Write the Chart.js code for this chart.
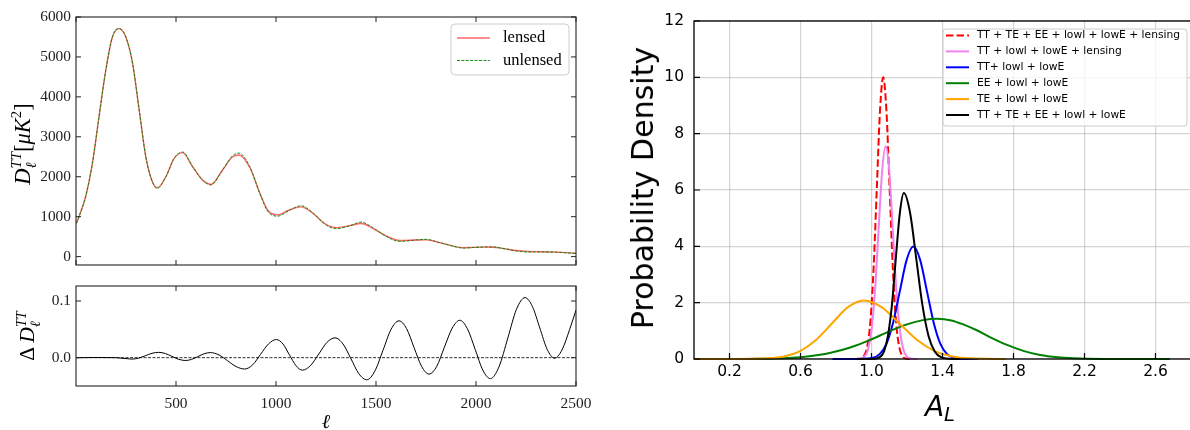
<!DOCTYPE html>
<html><head><meta charset="utf-8"><title>CMB TT lensing and A_L posteriors</title>
<script src="https://cdn.jsdelivr.net/npm/chart.js@4.4.1/dist/chart.umd.min.js"></script>
<style>
html,body{margin:0;padding:0;background:#fff;width:1190px;height:430px;overflow:hidden;position:relative;}
canvas{position:absolute;display:block;}
.lbl{position:absolute;white-space:nowrap;line-height:1;color:#000;}
.serif{font-family:"Liberation Serif","DejaVu Serif",serif;}
.sans{font-family:"DejaVu Sans",sans-serif;}
.rot{transform:translate(-50%,-50%) rotate(-90deg);}
.ctr{transform:translate(-50%,-50%);}
.stk{display:inline-block;vertical-align:-0.42em;font-size:0.66em;line-height:1.02;text-align:left;}
.stk span{display:block;}
i{font-style:italic;}
</style></head><body>
<canvas id="cTT" width="600" height="280" style="left:0;top:0"></canvas>
<canvas id="cRes" width="600" height="150" style="left:0;top:280px"></canvas>
<canvas id="cAL" width="600" height="430" style="left:600px;top:0"></canvas>

<div class="lbl serif rot" style="left:24px;top:144px;font-size:22.5px"><i>D</i><span class="stk"><span><i>TT</i></span><span><i>ℓ</i></span></span>[<i>μK</i><sup style="font-size:0.66em">2</sup>]</div>
<div class="lbl serif rot" style="left:28px;top:336px;font-size:21.5px">Δ <i>D</i><span class="stk"><span><i>TT</i></span><span><i>ℓ</i></span></span></div>
<div class="lbl serif ctr" style="left:326px;top:421px;font-size:20px"><i>ℓ</i></div>
<div class="lbl sans rot" style="left:643px;top:188px;font-size:30px">Probability Density</div>
<div class="lbl sans ctr" style="left:940px;top:409px;font-size:28px"><i>A</i><sub style="font-size:0.7em;font-style:italic;vertical-align:-0.25em">L</sub></div>

<script>
// ---------- data: TT power spectrum ----------
const ellTT = [2,15,48,82,115,149,182,215,249,283,316,349,382,407,449,491,533,583,633,675,733,783,815,867,917,958,1008,1067,1126,1184,1242,1301,1368,1426,1484,1551,1618,1701,1751,1818,1902,1935,1985,2040,2085,2140,2202,2260,2319,2400,2500];
const ttLensed = [835,1000,1500,2335,3500,4668,5500,5710,5500,4835,3668,2500,1875,1725,2000,2460,2605,2250,1918,1810,2168,2500,2545,2250,1620,1168,1045,1168,1245,1085,835,725,775,830,710,518,405,415,420,350,245,226,231,238,236,200,152,128,123,112,85];
const ttUnlensed = [835,1000,1500,2335,3500,4668,5500,5712,5502,4840,3672,2500,1870,1712,1995,2465,2618,2255,1912,1795,2172,2525,2592,2275,1610,1140,1013,1160,1273,1100,820,700,770,864,725,505,380,418,432,352,240,212,228,242,245,198,142,116,118,112,78];
const ttYTicks = [0,1000,2000,3000,4000,5000,6000];
const ellTicks = [500,1000,1500,2000,2500];

// ---------- data: fractional residual (lensed vs unlensed) ----------
const resEll = [2,100,200,280,313,347,380,413,447,480,514,547,578,610,641,672,715,758,801,844,884,923,963,1002,1035,1067,1100,1132,1173,1214,1254,1295,1335,1375,1414,1454,1494,1535,1575,1615,1653,1690,1728,1765,1804,1842,1881,1919,1957,1996,2034,2072,2115,2159,2202,2245,2282,2319,2356,2393,2430,2468,2500];
const resVal = [0,0.0003,0,-0.0025,-0.0008,0.0035,0.0077,0.0094,0.0073,0.0022,-0.0029,-0.005,-0.003,0.002,0.007,0.009,0.0048,-0.0055,-0.0158,-0.020,-0.0124,0.006,0.0244,0.032,0.0241,0.005,-0.0141,-0.022,-0.0137,0.0065,0.0267,0.035,0.0242,-0.002,-0.0282,-0.039,-0.0238,0.013,0.0498,0.065,0.0513,0.018,-0.0153,-0.029,-0.0151,0.0185,0.0521,0.066,0.051,0.0145,-0.022,-0.037,-0.0161,0.0345,0.0851,0.106,0.0904,0.0525,0.0146,-0.001,0.0137,0.0495,0.084];
const resZeroEll = [0,2500];
const resZeroVal = [0,0];
const resTicks = [0.0,0.1];

// ---------- data: A_L posteriors ----------
const alLabels = ['TT + TE + EE + lowl + lowE + lensing','TT + lowl + lowE + lensing','TT+ lowl + lowE','EE + lowl + lowE','TE + lowl + lowE','TT + TE + EE + lowl + lowE'];
const aRed = [0.90,0.94,0.958,0.976,0.994,1.012,1.030,1.048,1.066,1.084,1.102,1.120,1.138,1.156,1.174,1.20,1.24];
const pRed = [0,0.02,0.11,0.44,1.35,3.25,6.07,8.83,10.0,8.83,6.07,3.25,1.35,0.44,0.11,0.01,0];
const aVio = [0.90,0.94,0.96,0.98,1.00,1.02,1.04,1.06,1.08,1.10,1.12,1.14,1.16,1.18,1.20,1.22,1.26];
const pVio = [0,0.02,0.08,0.33,1.02,2.45,4.59,6.67,7.56,6.67,4.59,2.45,1.02,0.33,0.08,0.02,0];
const aBlue = [0.78,0.932,1.008,1.046,1.084,1.122,1.160,1.198,1.236,1.274,1.312,1.350,1.388,1.426,1.464,1.540,1.60];
const pBlue = [0,0.001,0.044,0.175,0.54,1.30,2.42,3.52,3.99,3.52,2.42,1.30,0.54,0.175,0.044,0.001,0];
const aGreen = [0.30,0.45,0.60,0.70,0.77,0.88,0.99,1.10,1.20,1.29,1.37,1.45,1.52,1.59,1.67,1.76,1.86,1.95,2.05,2.14,2.30,2.68];
const pGreen = [0,0.017,0.066,0.14,0.22,0.41,0.67,0.98,1.23,1.38,1.43,1.37,1.22,1.03,0.77,0.51,0.28,0.14,0.06,0.025,0.004,0];
const aOrange = [0.0,0.237,0.417,0.507,0.597,0.687,0.777,0.867,0.957,1.057,1.157,1.257,1.357,1.457,1.557,1.757];
const pOrange = [0,0,0.023,0.091,0.28,0.675,1.26,1.84,2.08,1.84,1.26,0.675,0.28,0.091,0.023,0];
const aBlack = [0.92,1.002,1.047,1.070,1.092,1.115,1.137,1.160,1.182,1.217,1.252,1.287,1.322,1.357,1.392,1.462,1.50];
const pBlack = [0,0.002,0.065,0.26,0.80,1.91,3.57,5.20,5.89,5.20,3.57,1.91,0.80,0.26,0.065,0.002,0];
const alTicks = [0.2,0.6,1.0,1.4,1.8,2.2,2.6];
const pdTicks = [0,2,4,6,8,10,12];

// ---------- helpers ----------
const pts = (xs, ys) => xs.map((x, i) => ({x: x, y: ys[i]}));
const setTicks = arr => s => { s.ticks = arr.map(v => ({value: v})); };
const fitW = w => s => { s.width = w; s.paddingLeft = s.paddingRight = s.paddingTop = s.paddingBottom = 0; };
const fitH = h => s => { s.height = h; s.paddingLeft = s.paddingRight = s.paddingTop = s.paddingBottom = 0; };

const mplFrame = {
  id: 'mplFrame',
  afterDatasetsDraw(chart, args, o) {
    const {ctx, chartArea: a, scales} = chart;
    ctx.save();
    ctx.strokeStyle = o.color; ctx.lineWidth = o.tickWidth; ctx.setLineDash([]);
    const L = o.tickLen;
    const xs = scales.x.ticks.map(t => scales.x.getPixelForValue(t.value));
    const ys = scales.y.ticks.map(t => scales.y.getPixelForValue(t.value));
    ctx.beginPath();
    if (o.ticks.bottom) xs.forEach(x => { ctx.moveTo(x, a.bottom); ctx.lineTo(x, a.bottom - L); });
    if (o.ticks.top) xs.forEach(x => { ctx.moveTo(x, a.top); ctx.lineTo(x, a.top + L); });
    if (o.ticks.left) ys.forEach(y => { ctx.moveTo(a.left, y); ctx.lineTo(a.left + L, y); });
    if (o.ticks.right) ys.forEach(y => { ctx.moveTo(a.right, y); ctx.lineTo(a.right - L, y); });
    ctx.stroke();
    ctx.lineWidth = o.spineWidth;
    ctx.strokeRect(a.left, a.top, a.right - a.left, a.bottom - a.top);
    ctx.restore();
  }
};

const mplLegend = {
  id: 'mplLegend',
  afterDraw(chart, args, o) {
    if (!o || !o.box) return;
    const ctx = chart.ctx;
    const [bx, by, bw, bh] = o.box;
    const r = o.radius || 3;
    ctx.save();
    ctx.beginPath();
    ctx.moveTo(bx + r, by);
    ctx.arcTo(bx + bw, by, bx + bw, by + bh, r);
    ctx.arcTo(bx + bw, by + bh, bx, by + bh, r);
    ctx.arcTo(bx, by + bh, bx, by, r);
    ctx.arcTo(bx, by, bx + bw, by, r);
    ctx.closePath();
    ctx.fillStyle = 'rgba(255,255,255,0.8)';
    ctx.fill();
    ctx.strokeStyle = '#cccccc'; ctx.lineWidth = 1;
    ctx.stroke();
    let row = 0;
    chart.data.datasets.forEach(ds => {
      if (ds.inLegend === false) return;
      const y = o.rowY0 + row * o.rowH; row++;
      ctx.beginPath();
      ctx.strokeStyle = ds.borderColor; ctx.lineWidth = ds.borderWidth;
      ctx.setLineDash(ds.borderDash || []);
      ctx.moveTo(o.hx0, y); ctx.lineTo(o.hx1, y); ctx.stroke();
      ctx.setLineDash([]);
      ctx.fillStyle = '#000'; ctx.font = o.font; ctx.textBaseline = 'middle'; ctx.textAlign = 'left';
      ctx.fillText(ds.label, o.tx, y + (o.textDy || 0));
    });
    ctx.restore();
  }
};

const base = {
  animation: false, responsive: false, devicePixelRatio: 1,
  elements: { point: { radius: 0, hoverRadius: 0 }, line: { cubicInterpolationMode: 'monotone', borderCapStyle: 'butt', fill: false } },
  events: []
};
const serifTick = { family: '"Liberation Serif","DejaVu Serif",serif', size: 15.4 };
const sansTick = { family: '"DejaVu Sans",sans-serif', size: 15.5 };

// ---------- chart 1: TT spectrum ----------
new Chart(document.getElementById('cTT'), {
  type: 'line',
  data: { datasets: [
    { label: 'lensed', data: pts(ellTT, ttLensed), borderColor: 'rgba(255,0,0,0.6)', borderWidth: 1.4, order: 2 },
    { label: 'unlensed', data: pts(ellTT, ttUnlensed), borderColor: '#008000', borderWidth: 0.9, borderDash: [3, 1.4], order: 1 }
  ]},
  options: Object.assign({}, base, {
    layout: { padding: { top: 17, right: 24, left: 0, bottom: 0 } },
    plugins: {
      legend: { display: false }, tooltip: { enabled: false },
      mplFrame: { color: '#222', tickWidth: 1, spineWidth: 1.1, tickLen: 5, ticks: { bottom: true, top: true, left: true, right: true } },
      mplLegend: { box: [451, 24, 118, 51], radius: 4, hx0: 457, hx1: 490, tx: 503, rowY0: 38, rowH: 22.5, font: '16.5px "Liberation Serif", serif' }
    },
    scales: {
      x: { type: 'linear', min: 0, max: 2500, afterBuildTicks: setTicks([0].concat(ellTicks)), afterFit: fitH(15),
           ticks: { display: false }, grid: { display: false, drawTicks: false }, border: { display: false } },
      y: { type: 'linear', min: -210, max: 6000, afterBuildTicks: setTicks(ttYTicks), afterFit: fitW(76),
           ticks: { font: serifTick, color: '#222', padding: 5, callback: v => String(v) },
           grid: { display: false, drawTicks: false }, border: { display: false } }
    }
  }),
  plugins: [mplFrame, mplLegend]
});

// ---------- chart 2: residual ----------
new Chart(document.getElementById('cRes'), {
  type: 'line',
  data: { datasets: [
    { label: 'zero', data: pts(resZeroEll, resZeroVal), borderColor: '#333', borderWidth: 1, borderDash: [3, 1.5], order: 2, cubicInterpolationMode: 'default', tension: 0 },
    { label: 'residual', data: pts(resEll, resVal), borderColor: '#000', borderWidth: 1, order: 1 }
  ]},
  options: Object.assign({}, base, {
    layout: { padding: { top: 6, right: 24, left: 0, bottom: 0 } },
    plugins: {
      legend: { display: false }, tooltip: { enabled: false },
      mplFrame: { color: '#222', tickWidth: 1, spineWidth: 1.1, tickLen: 5, ticks: { bottom: true, top: true, left: true, right: true } }
    },
    scales: {
      x: { type: 'linear', min: 0, max: 2500, afterBuildTicks: setTicks(ellTicks), afterFit: fitH(44),
           ticks: { font: serifTick, color: '#222', padding: 9, callback: v => String(v) },
           grid: { display: false, drawTicks: false }, border: { display: false } },
      y: { type: 'linear', min: -0.05, max: 0.1265, afterBuildTicks: setTicks(resTicks), afterFit: fitW(76),
           ticks: { font: serifTick, color: '#222', padding: 5, callback: v => Number(v).toFixed(1) },
           grid: { display: false, drawTicks: false }, border: { display: false } }
    }
  }),
  plugins: [mplFrame]
});

// ---------- chart 3: A_L posteriors ----------
const alColors = ['#ff0000', '#ee82ee', '#0000ff', '#008000', '#ffa500', '#000000'];
const alX = [aRed, aVio, aBlue, aGreen, aOrange, aBlack];
const alY = [pRed, pVio, pBlue, pGreen, pOrange, pBlack];
new Chart(document.getElementById('cAL'), {
  type: 'line',
  data: { datasets: alLabels.map((lab, i) => ({
    label: lab, data: pts(alX[i], alY[i]), borderColor: alColors[i], borderWidth: 2,
    borderDash: i === 0 ? [7.4, 3.2] : [], order: 6 - i, clip: 4
  }))},
  options: Object.assign({}, base, {
    layout: { padding: { top: 21, right: 9, left: 0, bottom: 0 } },
    plugins: {
      legend: { display: false }, tooltip: { enabled: false },
      mplFrame: { color: '#000', tickWidth: 1.2, spineWidth: 1.3, tickLen: 6, ticks: { bottom: true, left: true } },
      mplLegend: { box: [343, 29, 244, 97], radius: 3, hx0: 346, hx1: 369, tx: 377, rowY0: 35.5, rowH: 15.9, font: '10.7px "DejaVu Sans", sans-serif' }
    },
    scales: {
      x: { type: 'linear', min: 0, max: 2.8, afterBuildTicks: setTicks(alTicks), afterFit: fitH(71),
           ticks: { font: sansTick, color: '#000', padding: 4, callback: v => Number(v).toFixed(1) },
           grid: { display: true, color: 'rgba(176,176,176,0.55)', lineWidth: 1.2, drawTicks: false }, border: { display: false } },
      y: { type: 'linear', min: 0, max: 12, afterBuildTicks: setTicks(pdTicks), afterFit: fitW(94),
           ticks: { font: sansTick, color: '#000', padding: 10, callback: v => String(v) },
           grid: { display: true, color: 'rgba(176,176,176,0.55)', lineWidth: 1.2, drawTicks: false }, border: { display: false } }
    }
  }),
  plugins: [mplFrame, mplLegend]
});
</script>
</body></html>
